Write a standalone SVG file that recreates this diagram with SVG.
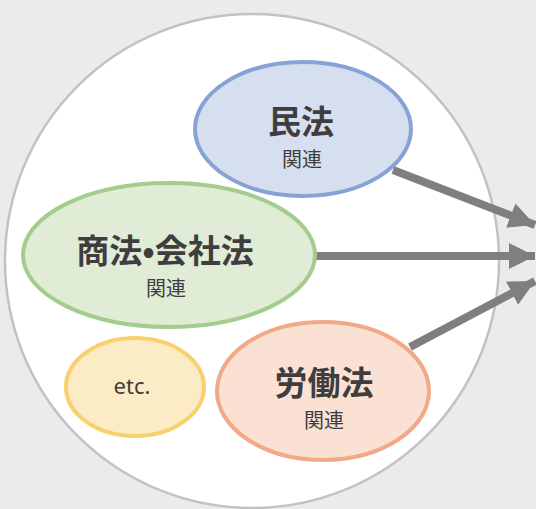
<svg xmlns="http://www.w3.org/2000/svg" width="536" height="509" viewBox="0 0 536 509">
<style>
.t{font-family:"Noto Sans CJK JP","Noto Sans",sans-serif;fill:#3f3d3d;text-anchor:middle}
.b{font-size:33px;font-weight:700}
.s{font-size:20px}
.n{stroke-width:4}
.c{stroke:#7f7f81;stroke-width:8;fill:none}
</style>
<defs>
<marker id="ah" markerUnits="userSpaceOnUse" markerWidth="30" markerHeight="30" refX="26" refY="13" orient="auto">
<path d="M0,0 L26,13 L0,26 Z" fill="#7f7f81"/>
</marker>
</defs>
<rect width="536" height="509" fill="#ebebeb"/>
<circle id="outer" cx="252" cy="261" r="247" fill="#fff" stroke="#c2c2c4" stroke-width="2.5"/>
<g id="connectors">
<line class="c" x1="393" y1="170" x2="535" y2="225" marker-end="url(#ah)"/>
<line class="c" x1="315" y1="256" x2="535" y2="256" marker-end="url(#ah)"/>
<line class="c" x1="410" y1="347" x2="535" y2="281" marker-end="url(#ah)"/>
</g>
<g id="minpo">
<ellipse class="n" cx="303" cy="129" rx="108" ry="67" fill="#d6dff0" stroke="#87a3d6"/>
<text class="t b" x="301" y="134">民法</text>
<text class="t s" x="302" y="167">関連</text>
</g>
<g id="shoho">
<ellipse class="n" cx="169" cy="255" rx="146" ry="72" fill="#e0ecd5" stroke="#a4cc8f"/>
<text class="t b" x="165" y="263">商法•会社法</text>
<text class="t s" x="166" y="296">関連</text>
</g>
<g id="etc">
<ellipse class="n" cx="135" cy="387" rx="69" ry="49" fill="#fcecc6" stroke="#f8d06e"/>
<text class="t" x="132" y="394" style="font-family:'Noto Sans',sans-serif;font-size:22px">etc.</text>
</g>
<g id="rodo">
<ellipse class="n" cx="323" cy="391" rx="106" ry="69" fill="#fbe0d4" stroke="#f1a987"/>
<text class="t b" x="324" y="395">労働法</text>
<text class="t s" x="324" y="428">関連</text>
</g>
</svg>
